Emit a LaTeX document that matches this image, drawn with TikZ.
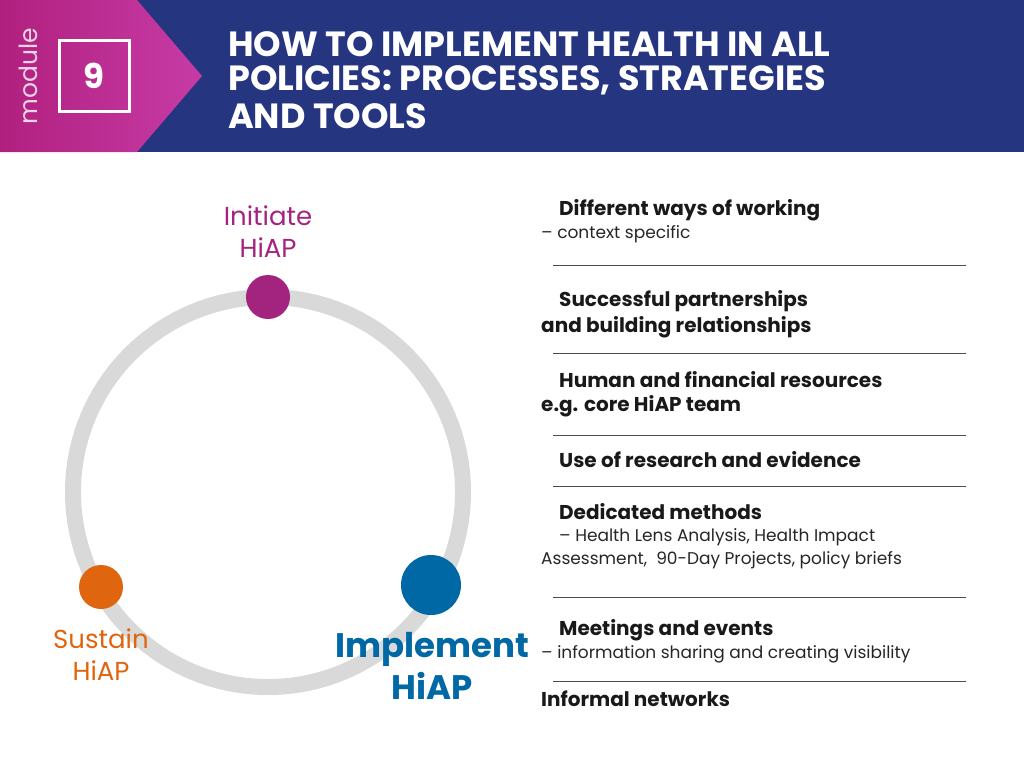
\documentclass[tikz,border=0pt]{standalone}
\usepackage{fontspec}
\setmainfont{Poppins}
\begin{document}
\begin{tikzpicture}[x=1pt,y=-1pt,
  sep/.style={draw=black!70,line width=0.8pt},
  bt/.style={anchor=west,font=\bfseries\fontsize{20}{22}\selectfont,text=black!90,inner sep=0},
  nt/.style={anchor=west,font=\fontsize{17}{19}\selectfont,text=black!85,inner sep=0}]
\definecolor{hblue}{HTML}{263580}
\definecolor{mag1}{HTML}{B0207E}
\definecolor{mag2}{HTML}{C73BA6}
\definecolor{imag}{HTML}{A3247F}
\definecolor{sorg}{HTML}{E0650F}
\definecolor{iblue}{HTML}{0068A5}
\useasboundingbox (0,0) rectangle (1024,768);
\fill[hblue] (0,0) rectangle (1024,152);
\shade[left color=mag1,right color=mag2] (0,0)--(137,0)--(202,76)--(137,152)--(0,152)--cycle;
\node (box) [draw=white,line width=3pt,minimum size=70pt,inner sep=0] at (94,76) {};
\node (nine) at (box) [text=white,font=\bfseries\fontsize{34}{34}\selectfont] {9};
\node (mod) [rotate=90,text=white!80!mag1,font=\fontsize{25}{25}\selectfont] at (28,76) {module};
\node (t0) [anchor=west,text=white,font=\bfseries\fontsize{35}{36}\selectfont,inner sep=0] at (228,44) {HOW TO IMPLEMENT HEALTH IN ALL};
\node (t0b) [anchor=west,text=white,font=\bfseries\fontsize{35}{36}\selectfont,inner sep=0] at (228,80) {POLICIES: PROCESSES, STRATEGIES};
\node (t0c) [anchor=west,text=white,font=\bfseries\fontsize{35}{36}\selectfont,inner sep=0] at (228,116) {AND TOOLS};
\draw[black!15,line width=16pt] (268,492) circle[radius=195];
\node (ini) [circle,fill=imag,minimum size=44pt,inner sep=0] at (268,297) {};
\node (sus) [circle,fill=sorg,minimum size=44pt,inner sep=0] at (101,587) {};
\node (imp) [circle,fill=iblue,minimum size=60pt,inner sep=0] at (431,585) {};
\node (iniL) [align=center,text=imag,font=\fontsize{26}{32}\selectfont] at (268,232) {Initiate\\HiAP};
\node (susL) [align=center,text=sorg,font=\fontsize{26}{32}\selectfont] at (101,655) {Sustain\\HiAP};
\node (impL) [align=center,text=iblue,font=\bfseries\fontsize{34}{42}\selectfont] at (432,666) {Implement\\HiAP};
\node (t1) [bt] at (559,210) {Different ways of working};
\node (t1b) [nt] at (541,234) {– context specific};
\node (t2) [bt] at (559,301) {Successful partnerships};
\node (t2b) [bt] at (541,327) {and building relationships};
\node (t3) [bt] at (559,380) {Human and financial resources};
\node (t3b) [bt] at (541,406) {e.g. core HiAP team};
\node (t4) [bt] at (559,460) {Use of research and evidence};
\node (t5) [bt] at (559,512) {Dedicated methods};
\node (t5b) [nt] at (559,537) {– Health Lens Analysis, Health Impact};
\node (t5c) [nt] at (541,560) {Assessment,\ \ 90-Day Projects, policy briefs};
\node (t6) [bt] at (559,630) {Meetings and events};
\node (t6b) [nt] at (541,654) {– information sharing and creating visibility};
\node (t7) [bt] at (541,699) {Informal networks};
\foreach \y in {265,353,435,486,597,681} \draw[sep] (553,\y) -- (966,\y);
\end{tikzpicture}
\end{document}
